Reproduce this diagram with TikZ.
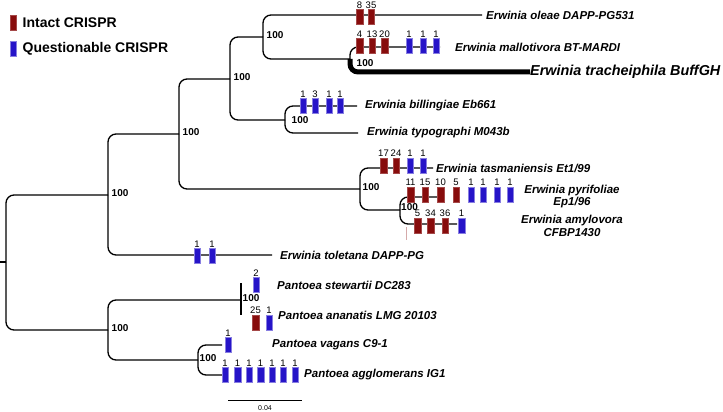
\documentclass[tikz,border=0pt]{standalone}
\usepackage{fontspec}
\setmainfont{Liberation Sans}
\usepackage{tikz}
\usetikzlibrary{positioning}

\definecolor{crRed}{RGB}{135,12,12}
\definecolor{crBlue}{RGB}{38,20,200}

\tikzset{
  branch/.style={line width=1.3pt, rounded corners=8pt},
  intact/.style={rectangle, fill=crRed, draw=crRed!75!white, line width=0.4pt,
    minimum width=6.5pt, minimum height=15pt, inner sep=0pt},
  quest/.style={rectangle, fill=crBlue, draw=crBlue!55!white, line width=0.4pt,
    minimum width=6.5pt, minimum height=15pt, inner sep=0pt},
  num/.style={font=\fontsize{9.5}{9.5}\selectfont, inner sep=1pt},
  boot/.style={font=\fontsize{10}{10}\selectfont\bfseries, inner sep=0.5pt, yshift=1.5pt},
  leaf/.style={font=\fontsize{11.5}{12.5}\selectfont\bfseries\itshape, inner sep=0pt},
  legtext/.style={font=\fontsize{14}{14}\selectfont\bfseries, anchor=west, inner sep=0pt}
}

\begin{document}
\begin{tikzpicture}[x=1pt, y=-1pt]
\useasboundingbox (0,0) rectangle (723,412);

% legend
\node[intact, minimum height=15pt] (legI) at (13,22.5) {};
\node[legtext, right=6pt of legI] (legIt) {Intact CRISPR};
\node[quest, minimum height=15pt] (legQ) at (13,48.5) {};
\node[legtext, right=6pt of legQ] (legQt) {Questionable CRISPR};

% inner nodes of the tree
\coordinate (rootIn) at (0,262);
\coordinate (root) at (6,262);
\coordinate (nE) at (108,195);
\coordinate (nP) at (108,330);
\coordinate (nE1) at (179,134);
\coordinate (nE2) at (230,79);
\coordinate (nOl) at (263,37);
\coordinate (nMT) at (350,59);
\coordinate (nBT) at (285,120);
\coordinate (nTa) at (360,189);
\coordinate (nPA) at (400,210);
\coordinate (nSA) at (241,300);
\coordinate (nVA) at (198,360);

% branch ends
\coordinate (eOle) at (482,15);
\coordinate (eMal) at (440,47);
\coordinate (eTra) at (530,72);
\coordinate (eBil) at (357,106);
\coordinate (eTyp) at (358,133);
\coordinate (eTas) at (433,168);
\coordinate (ePyr) at (443,197);
\coordinate (eAmy) at (457,224);
\coordinate (eTol) at (272,255);
\coordinate (eSte) at (241,283);
\coordinate (eAna) at (241,315);
\coordinate (eVag) at (222,345);
\coordinate (eAgg) at (228,375);

% branches
\draw[branch] (rootIn) -- (root);
\draw[branch] (root) |- (nE);
\draw[branch] (root) |- (nP);
\draw[branch] (nE) |- (nE1);
\draw[branch] (nE) |- (eTol);
\draw[branch] (nE1) |- (nE2);
\draw[branch] (nE1) |- (nTa);
\draw[branch] (nE2) |- (nOl);
\draw[branch] (nE2) |- (nBT);
\draw[branch] (nOl) |- (eOle);
\draw[branch] (nOl) |- (nMT);
\draw[branch] (nMT) |- (eMal);
\draw[branch, line width=5pt] (nMT) |- (eTra);
\draw[branch] (nBT) |- (eBil);
\draw[branch] (nBT) |- (eTyp);
\draw[branch] (nTa) |- (eTas);
\draw[branch] (nTa) |- (nPA);
\draw[branch] (nPA) |- (ePyr);
\draw[branch] (nPA) |- (eAmy);
\draw[branch] (nP) |- (nSA);
\draw[branch] (nP) |- (nVA);
\draw[line width=1.3pt] (eSte) -- (eAna);
\draw[branch] (nVA) |- (eVag);
\draw[branch] (nVA) |- (eAgg);

% bootstrap values
\node[boot, right=3pt of nE] (bE) {100};
\node[boot, right=3pt of nP] (bP) {100};
\node[boot, right=3pt of nE1] (bE1) {100};
\node[boot, right=3pt of nE2] (bE2) {100};
\node[boot, right=3pt of nOl] (bOl) {100};
\node[boot, below right=1pt and 6pt of nMT] (bMT) {100};
\node[boot, right=6pt of nBT, yshift=-2pt] (bBT) {100};
\node[boot, right=2pt of nTa] (bTa) {100};
\node[boot, right=0.5pt of nPA, yshift=1.5pt] (bPA) {100};
\node[boot, right=1pt of nSA] (bSA) {100};
\node[boot, right=1pt of nVA] (bVA) {100};

% taxa
\node[leaf, right=4pt of eOle] (tOle) {Erwinia oleae DAPP-PG531};
\node[leaf, right=15pt of eMal] (tMal) {Erwinia mallotivora BT-MARDI};
\node[leaf, right=0pt of eTra, font=\fontsize{14.4}{15}\selectfont\bfseries\itshape] (tTra) {Erwinia tracheiphila BuffGH};
\node[leaf, right=8pt of eBil] (tBil) {Erwinia billingiae Eb661};
\node[leaf, right=9pt of eTyp] (tTyp) {Erwinia typographi M043b};
\node[leaf, right=3pt of eTas] (tTas) {Erwinia tasmaniensis Et1/99};
\node[leaf, align=center] (tPyr) at (572,196.5) {Erwinia pyrifoliae\\Ep1/96};
\node[leaf, align=center] (tAmy) at (572,226) {Erwinia amylovora\\CFBP1430};
\node[leaf, right=8pt of eTol] (tTol) {Erwinia toletana DAPP-PG};
\node[leaf, right=36pt of eSte, yshift=-2pt] (tSte) {Pantoea stewartii DC283};
\node[leaf, right=37pt of eAna] (tAna) {Pantoea ananatis LMG 20103};
\node[leaf, right=50pt of eVag] (tVag) {Pantoea vagans C9-1};
\node[leaf, right=76pt of eAgg] (tAgg) {Pantoea agglomerans IG1};

% CRISPR arrays
\node[intact, label={[num]above:8}] (ole1) at (359.5,17) {};
\node[intact, label={[num]above:35}] (ole2) at (371,17) {};

\node[intact, label={[num]above:4}] (mal1) at (359.5,46) {};
\node[intact, label={[num]above:13}] (mal2) at (372,46) {};
\node[intact, label={[num]above:20}] (mal3) at (384.5,46) {};
\node[quest, label={[num]above:1}] (mal4) at (409,46) {};
\node[quest, label={[num]above:1}] (mal5) at (423,46) {};
\node[quest, label={[num]above:1}] (mal6) at (436,46) {};

\node[quest, label={[num]above:1}] (bil1) at (303,106) {};
\node[quest, label={[num]above:3}] (bil2) at (315,106) {};
\node[quest, label={[num]above:1}] (bil3) at (329,106) {};
\node[quest, label={[num]above:1}] (bil4) at (340,106) {};

\node[intact, label={[num]above:17}] (tas1) at (383.5,165.5) {};
\node[intact, label={[num]above:24}] (tas2) at (396,165.5) {};
\node[quest, label={[num]above:1}] (tas3) at (410,165.5) {};
\node[quest, label={[num]above:1}] (tas4) at (423,165.5) {};

\node[intact, label={[num]above:11}] (pyr1) at (410.5,194.5) {};
\node[intact, label={[num]above:15}] (pyr2) at (425,194.5) {};
\node[intact, label={[num]above:10}] (pyr3) at (440.5,194.5) {};
\node[intact, label={[num]above:5}] (pyr4) at (456,194.5) {};
\node[quest, label={[num]above:1}] (pyr5) at (471,194.5) {};
\node[quest, label={[num]above:1}] (pyr6) at (483,194.5) {};
\node[quest, label={[num]above:1}] (pyr7) at (497,194.5) {};
\node[quest, label={[num]above:1}] (pyr8) at (510,194.5) {};

\node[intact, label={[num]above:5}] (amy1) at (417.5,225.5) {};
\node[intact, label={[num]above:34}] (amy2) at (430.5,225.5) {};
\node[intact, label={[num]above:36}] (amy3) at (445,225.5) {};
\node[quest, label={[num]above:1}] (amy4) at (461.5,225.5) {};

\node[quest, label={[num]above:1}] (tol1) at (197,256) {};
\node[quest, label={[num]above:1}] (tol2) at (212,256) {};

\node[quest, label={[num]above:2}] (ste1) at (256,285) {};

\node[intact, label={[num]above:25}] (ana1) at (255.5,322.5) {};
\node[quest, label={[num]above:1}] (ana2) at (269,322.5) {};

\node[quest, label={[num]above:1}] (vag1) at (228,345) {};

\node[quest, label={[num]above:1}] (agg1) at (225,375) {};
\node[quest, label={[num]above:1}] (agg2) at (237.5,375) {};
\node[quest, label={[num]above:1}] (agg3) at (249,375) {};
\node[quest, label={[num]above:1}] (agg4) at (260.5,375) {};
\node[quest, label={[num]above:1}] (agg5) at (272,375) {};
\node[quest, label={[num]above:1}] (agg6) at (283,375) {};
\node[quest, label={[num]above:1}] (agg7) at (295,375) {};

% faint mark under the amylovora array
\coordinate (mkA) at (406,227);
\coordinate (mkB) at (406,240);
\draw[crRed!35, line width=0.5pt] (mkA) -- (mkB);

% scale bar
\coordinate (sL) at (228,400);
\coordinate (sR) at (302,400);
\draw[line width=1pt] (sL) -- (sR);
\node[font=\fontsize{7}{7}\selectfont, inner sep=0pt] (sLab) at (265,408) {0.04};
\end{tikzpicture}
\end{document}
